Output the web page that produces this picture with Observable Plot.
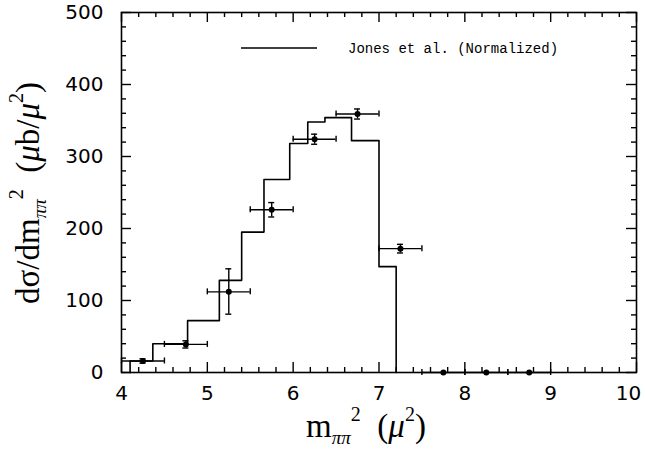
<!DOCTYPE html>
<html>
<head>
<meta charset="utf-8">
<script src="https://cdn.jsdelivr.net/npm/d3@7"></script>
<script src="https://cdn.jsdelivr.net/npm/@observablehq/plot@0.6"></script>
<style>
  html, body { margin: 0; padding: 0; background: #fff; }
  #chart { width: 645px; height: 451px; }
</style>
</head>
<body>
<div id="chart"></div>
<script>
// ---- Data ----
// Histogram (Jones et al., normalized): bin edges and heights
const binEdges  = [4.1, 4.365, 4.77, 5.14, 5.40, 5.66, 5.96, 6.17, 6.37, 6.68, 7.0, 7.2];
const binValues = [16, 40, 72, 128, 195, 268, 318, 348, 354, 322, 147];

// Measured points with errors
const ptX      = [4.25, 4.75, 5.25, 5.75, 6.25, 6.75, 7.25, 7.75, 8.25, 8.75];
const ptY      = [16, 39, 112, 226, 324, 359, 172, 0, 0, 0];
const ptYErrHi = [3, 5, 32, 10, 7, 7, 6, 0, 0, 0];
const ptYErrLo = [3, 5, 31, 10, 7, 7, 6, 0, 0, 0];
const ptXHalf  = [0.25, 0.25, 0.25, 0.25, 0.25, 0.25, 0.25, 0.25, 0.25, 0.25];

// Axis ticks
const xMajor = [4, 5, 6, 7, 8, 9, 10];
const yMajor = [0, 100, 200, 300, 400, 500];
const xMinorStep = 0.2;
const yMinorStep = 20;

const legendLabel = "Jones et al. (Normalized)";

// ---- Build tables ----
const histPts = [{x: binEdges[0], y: 0}];
binValues.forEach((v, i) => histPts.push({x: binEdges[i], y: v}));
histPts.push({x: binEdges[binEdges.length - 1], y: 0});

const pts = ptX.map((x, i) => ({
  x, y: ptY[i],
  xlo: x - ptXHalf[i], xhi: x + ptXHalf[i],
  ylo: ptY[i] - ptYErrLo[i], yhi: ptY[i] + ptYErrHi[i],
  hasY: ptYErrHi[i] > 0 || ptYErrLo[i] > 0
}));
const ptsYErr = pts.filter(d => d.hasY);

const xMinor = d3.range(4, 10 + 1e-9, xMinorStep).map(v => +v.toFixed(3)).filter(v => Math.abs(v - Math.round(v)) > 1e-6);
const yMinor = d3.range(0, 500 + 1e-9, yMinorStep).filter(v => v % 100 !== 0);

const [x0, x1] = [4, 10];
const [y0, y1] = [0, 500];
const MAJ = 10, MIN = 5, CAP = 3;
const sw = 1.4;
const sans = "'DejaVu Sans', 'Liberation Sans', Arial, sans-serif";

const chart = Plot.plot({
  width: 645,
  height: 451,
  marginLeft: 121,
  marginRight: 9,
  marginTop: 12,
  marginBottom: 79,
  x: {domain: [x0, x1]},
  y: {domain: [y0, y1]},
  style: {fontFamily: sans, fontSize: "20px", color: "black", background: "white"},
  marks: [
    Plot.axisX({ticks: xMajor, tickSize: 0, tickPadding: 13, fontSize: 20, label: null, tickFormat: d => String(d)}),
    Plot.axisY({ticks: yMajor, tickSize: 0, tickPadding: 18, fontSize: 20, label: null, tickFormat: d => String(d)}),
    // inward ticks: bottom & top
    Plot.ruleX(xMajor, {x: d => d, y1: y0, y2: y0, insetBottom: MAJ, stroke: "black", strokeWidth: sw}),
    Plot.ruleX(xMinor, {x: d => d, y1: y0, y2: y0, insetBottom: MIN, stroke: "black", strokeWidth: sw}),
    Plot.ruleX(xMajor, {x: d => d, y1: y1, y2: y1, insetTop: MAJ, stroke: "black", strokeWidth: sw}),
    Plot.ruleX(xMinor, {x: d => d, y1: y1, y2: y1, insetTop: MIN, stroke: "black", strokeWidth: sw}),
    // inward ticks: left & right
    Plot.ruleY(yMajor, {y: d => d, x1: x0, x2: x0, insetRight: -MAJ, stroke: "black", strokeWidth: sw}),
    Plot.ruleY(yMinor, {y: d => d, x1: x0, x2: x0, insetRight: -MIN, stroke: "black", strokeWidth: sw}),
    Plot.ruleY(yMajor, {y: d => d, x1: x1, x2: x1, insetLeft: -MAJ, stroke: "black", strokeWidth: sw}),
    Plot.ruleY(yMinor, {y: d => d, x1: x1, x2: x1, insetLeft: -MIN, stroke: "black", strokeWidth: sw}),
    // histogram
    Plot.line(histPts, {x: "x", y: "y", curve: "step-after", stroke: "black", strokeWidth: 1.6}),
    // x error bars + caps
    Plot.ruleY(pts, {y: "y", x1: "xlo", x2: "xhi", stroke: "black", strokeWidth: sw}),
    Plot.ruleX(pts, {x: "xlo", y1: "y", y2: "y", insetTop: -CAP, insetBottom: -CAP, stroke: "black", strokeWidth: sw}),
    Plot.ruleX(pts, {x: "xhi", y1: "y", y2: "y", insetTop: -CAP, insetBottom: -CAP, stroke: "black", strokeWidth: sw}),
    // y error bars + caps
    Plot.ruleX(ptsYErr, {x: "x", y1: "ylo", y2: "yhi", stroke: "black", strokeWidth: sw}),
    Plot.ruleY(ptsYErr, {y: "ylo", x1: "x", x2: "x", insetLeft: -CAP, insetRight: -CAP, stroke: "black", strokeWidth: sw}),
    Plot.ruleY(ptsYErr, {y: "yhi", x1: "x", x2: "x", insetLeft: -CAP, insetRight: -CAP, stroke: "black", strokeWidth: sw}),
    // points
    Plot.dot(pts, {x: "x", y: "y", r: 3, fill: "black", stroke: "none"}),
    Plot.frame({stroke: "black", strokeWidth: 1.6})
  ]
});

document.getElementById("chart").appendChild(chart);

const svg = d3.select(chart);

// keep the last x tick label ("10") inside the picture
const xTickTexts = svg.selectAll("g[aria-label='x-axis tick label'] text").nodes();
if (xTickTexts.length) d3.select(xTickTexts[xTickTexts.length - 1]).attr("dx", -8);

// ---- Labels and legend (rich text with sub/superscripts) ----
const serif = "'Liberation Serif', 'Times New Roman', serif";

function richLabel(g, parts, base) {
  const t = g.append("text")
    .attr("font-family", serif)
    .attr("font-size", base)
    .attr("fill", "black")
    .attr("text-anchor", "middle");
  let cur = 0;
  parts.forEach(p => {
    const off = p.shift || 0;
    t.append("tspan")
      .attr("dy", off - cur)
      .attr("font-size", p.size || base)
      .attr("font-style", p.italic ? "italic" : null)
      .text(p.t);
    cur = off;
  });
  return t;
}

const ylab = svg.append("g").attr("transform", "translate(39,193) rotate(-90)");
richLabel(ylab, [
  {t: "dσ/dm"},
  {t: "ππ", size: 19, shift: 7, italic: true},
  {t: "2", size: 20, shift: -16},
  {t: "  (", shift: 0},
  {t: "μ", italic: true},
  {t: "b/"},
  {t: "μ", italic: true},
  {t: "2", size: 20, shift: -16},
  {t: ")", shift: 0}
], 33);

const xlab = svg.append("g").attr("transform", "translate(366,437)");
richLabel(xlab, [
  {t: "m"},
  {t: "ππ", size: 19, shift: 7, italic: true},
  {t: "2", size: 20, shift: -16},
  {t: "  (", shift: 0},
  {t: "μ", italic: true},
  {t: "2", size: 20, shift: -16},
  {t: ")", shift: 0}
], 33);

// legend
svg.append("line")
  .attr("x1", 241).attr("x2", 317).attr("y1", 48).attr("y2", 48)
  .attr("stroke", "black").attr("stroke-width", 1.5);
svg.append("text")
  .attr("x", 348).attr("y", 53)
  .attr("text-anchor", "start")
  .attr("font-family", "'Liberation Mono', 'DejaVu Sans Mono', monospace")
  .attr("font-size", 14)
  .attr("fill", "black")
  .text(legendLabel);
</script>
</body>
</html>
